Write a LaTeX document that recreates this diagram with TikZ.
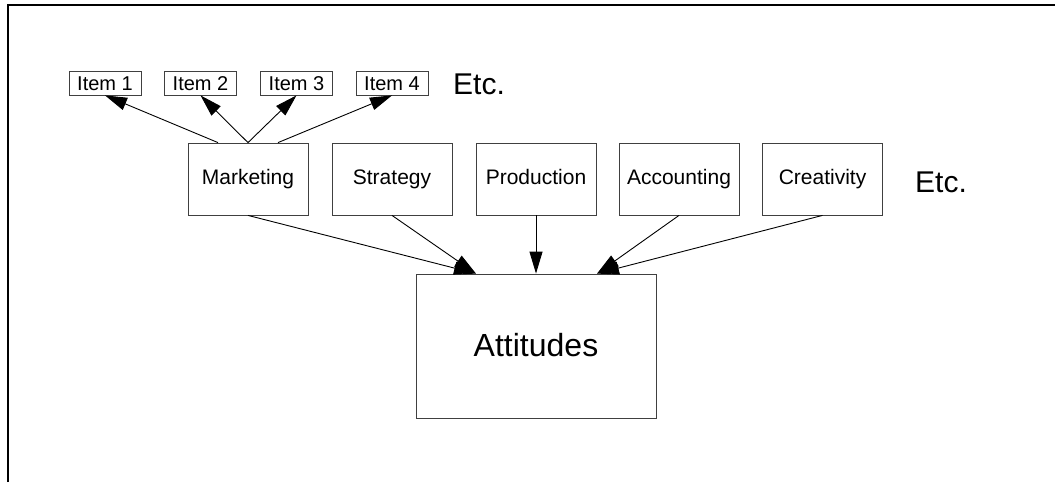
\documentclass[tikz,border=0pt]{standalone}
\usepackage{fontspec}
\setmainfont{Liberation Sans}
\usetikzlibrary{arrows.meta}
\begin{document}
\begin{tikzpicture}[x=1pt,y=-1pt,
  box/.style={draw=black!75, line width=0.8pt, inner sep=0pt, align=center},
  itembox/.style={box, minimum width=72pt, minimum height=24pt,
    font=\fontsize{20}{24}\selectfont, text height=14pt, text depth=0pt},
  deptbox/.style={box, minimum width=120pt, minimum height=72pt,
    font=\fontsize{21}{25}\selectfont, text height=14.7pt, text depth=4.2pt},
  attbox/.style={box, minimum width=240pt, minimum height=144pt,
    font=\fontsize{32}{38}\selectfont, text height=22.4pt, text depth=2pt},
  etcnode/.style={inner sep=0pt, anchor=base west, font=\fontsize{30}{36}\selectfont},
  arr/.style={-{Triangle[length=22pt,width=13pt]}, line width=0.9pt, black}]
\useasboundingbox (0,0) rectangle (1055,482);
% frame
\draw[line width=2pt] (8.3,482) -- (8.3,5) -- (1055,5);
% items
\node[itembox] (i1) at (105,83) {Item 1};
\node[itembox] (i2) at (200.5,83) {Item 2};
\node[itembox] (i3) at (296.5,83) {Item 3};
\node[itembox] (i4) at (392,83) {Item 4};
\node[etcnode] (etc1) at (453,94) {Etc.};
% departments
\node[deptbox] (mkt) at (248,179) {Marketing};
\node[deptbox] (str) at (392,179) {Strategy};
\node[deptbox] (prd) at (536,179) {Production};
\node[deptbox] (acc) at (679,179) {Accounting};
\node[deptbox] (cre) at (822.5,179) {Creativity};
\node[etcnode] (etc2) at (915,192) {Etc.};
% attitudes
\node[attbox] (att) at (536,346) {Attitudes};
% arrows to items
\draw[arr] ([xshift=-30pt]mkt.north) -- (i1.south);
\draw[arr] (mkt.north) -- (i2.south);
\draw[arr] (mkt.north) -- (i3.south);
\draw[arr] ([xshift=30pt]mkt.north) -- (i4.south);
% arrows to attitudes
\draw[arr] (mkt.south) -- ([xshift=-60pt]att.north);
\draw[arr] (str.south) -- ([xshift=-60pt]att.north);
\draw[arr] (prd.south) -- (att.north);
\draw[arr] (acc.south) -- ([xshift=61pt]att.north);
\draw[arr] (cre.south) -- ([xshift=61pt]att.north);
\end{tikzpicture}
\end{document}
